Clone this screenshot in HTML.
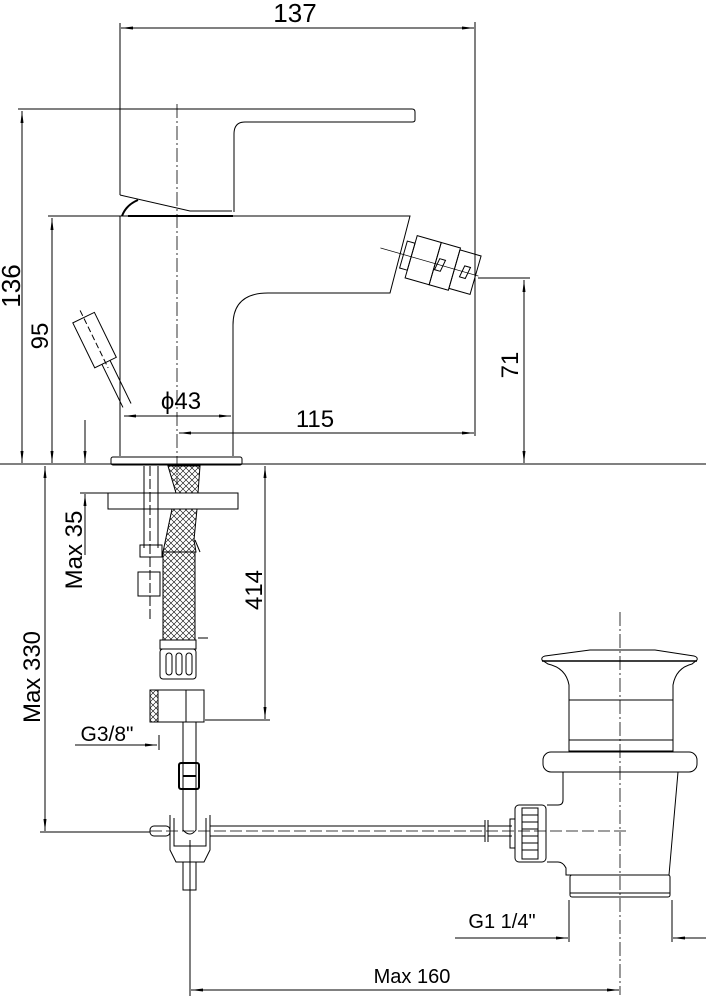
<!DOCTYPE html>
<html><head><meta charset="utf-8"><style>html,body{margin:0;padding:0;background:#fff}svg{display:block}</style></head><body>
<svg width="706" height="1000" viewBox="0 0 706 1000" xmlns="http://www.w3.org/2000/svg" font-family="Liberation Sans, DejaVu Sans, sans-serif">
<defs>
<pattern id="x" width="6" height="6" patternUnits="userSpaceOnUse"><path d="M0 0L6 6M6 0L0 6" stroke="#000" stroke-width="0.6"/></pattern>
<marker id="a" markerWidth="12" markerHeight="6" refX="12" refY="3" orient="auto-start-reverse" markerUnits="userSpaceOnUse"><path d="M0 1.5L12 3L0 4.5Z" fill="#000"/></marker>
</defs>
<g fill="none" stroke="#000" stroke-width="1">
<line x1="120" y1="23" x2="120" y2="195"/><line x1="475" y1="22" x2="475" y2="436"/>
<line x1="121" y1="28" x2="474" y2="28" marker-start="url(#a)" marker-end="url(#a)"/>
<line x1="18" y1="109" x2="120" y2="109"/>
<line x1="22" y1="111" x2="22" y2="463" marker-start="url(#a)" marker-end="url(#a)"/>
<line x1="48" y1="216" x2="120" y2="216"/>
<line x1="52" y1="218" x2="52" y2="463" marker-start="url(#a)" marker-end="url(#a)"/>
<line x1="124" y1="416" x2="231" y2="416" marker-start="url(#a)" marker-end="url(#a)"/>
<line x1="179" y1="433" x2="474" y2="433" marker-start="url(#a)" marker-end="url(#a)"/>
<line x1="478" y1="278" x2="530" y2="278"/>
<line x1="524" y1="280" x2="524" y2="463" marker-start="url(#a)" marker-end="url(#a)"/>
<line x1="0" y1="464" x2="706" y2="464"/>
<line x1="85" y1="420" x2="85" y2="463" marker-end="url(#a)"/>
<line x1="85" y1="555" x2="85" y2="494" marker-end="url(#a)"/>
<line x1="80" y1="493" x2="108" y2="493"/>
<line x1="265" y1="466" x2="265" y2="719" marker-start="url(#a)" marker-end="url(#a)"/>
<line x1="205" y1="720" x2="270" y2="720"/>
<line x1="75" y1="745" x2="157" y2="745" marker-end="url(#a)"/>
<line x1="159" y1="735" x2="159" y2="750"/>
<line x1="45" y1="466" x2="45" y2="831" marker-start="url(#a)" marker-end="url(#a)"/>
<line x1="40" y1="832" x2="150" y2="832"/>
<line x1="455" y1="938" x2="568" y2="938" marker-end="url(#a)"/>
<line x1="706" y1="938" x2="673" y2="938" marker-end="url(#a)"/>
<line x1="569" y1="900" x2="569" y2="942"/><line x1="672" y1="900" x2="672" y2="942"/>
<line x1="190" y1="840" x2="190" y2="996"/>
<line x1="191" y1="990" x2="619" y2="990" marker-start="url(#a)" marker-end="url(#a)"/>
<line x1="177" y1="104" x2="177" y2="485" stroke-width="0.8" stroke-dasharray="14,3,2,3"/>
<line x1="620" y1="612" x2="620" y2="995" stroke-width="0.8" stroke-dasharray="14,3,2,3"/>
<line x1="150" y1="831" x2="628" y2="831" stroke-width="0.7" stroke-dasharray="12,4"/>
<path d="M120 109H412Q415 109 415 112V120Q415 122 412 122H245Q234 122 234 134V212"/>
<path d="M120 195L190 211H232"/>
<path d="M122 216Q126 205 138 200" stroke-width="2"/>
<line x1="128" y1="216" x2="233" y2="216" stroke-width="2"/>
<path d="M120 216H410L390 293H268Q233 293 233 325V456"/>
<line x1="120" y1="216" x2="120" y2="456"/>
<g transform="translate(440,265) rotate(16)">
<rect x="-38" y="-14" width="8" height="28"/><rect x="-30" y="-22" width="25" height="44"/><rect x="-5" y="-22" width="20" height="44"/><rect x="15" y="-20" width="22" height="40"/>
<path d="M-2 -6L4 -6L2 6L-4 6ZM24 -6L30 -6L28 6L22 6Z"/>
<line x1="-62" y1="0" x2="40" y2="0" stroke-width="0.7"/>
</g>
<g transform="translate(95,341) rotate(-26)">
<rect x="-12" y="-26" width="24" height="50"/><line x1="-4" y1="24" x2="-4" y2="72"/><line x1="5" y1="24" x2="5" y2="72"/><line x1="0" y1="-34" x2="0" y2="30" stroke-dasharray="6,3"/>
</g>
<rect x="111" y="457" width="131" height="8" rx="2"/>
<rect x="108" y="493" width="130" height="16"/>
<line x1="144" y1="466" x2="144" y2="548"/><line x1="158" y1="466" x2="158" y2="548"/><line x1="150" y1="466" x2="150" y2="620" stroke-dasharray="10,3"/>
<rect x="140" y="545" width="22" height="12"/><rect x="138" y="572" width="22" height="24"/>
<path d="M168 466H200L198 493H176Z" fill="url(#x)"/>
<path d="M172 509H197L194 540L196 552H163Z" fill="url(#x)"/>
<rect x="163" y="552" width="32" height="88" fill="url(#x)"/>
<line x1="195" y1="540" x2="200" y2="552"/>
<rect x="160" y="640" width="36" height="9"/><rect x="160" y="649" width="36" height="30" rx="3"/>
<rect x="166" y="653" width="6" height="22" rx="3"/><rect x="176" y="653" width="6" height="22" rx="3"/><rect x="186" y="653" width="6" height="22" rx="3"/>
<line x1="198" y1="638" x2="208" y2="638"/>
<rect x="150" y="690" width="54" height="32"/><rect x="150" y="690" width="8" height="32" fill="url(#x)"/>
<line x1="186" y1="690" x2="186" y2="722"/>
<line x1="183" y1="722" x2="183" y2="815"/><line x1="196" y1="722" x2="196" y2="815"/>
<rect x="179" y="763" width="20" height="26" rx="2" stroke-width="2"/><line x1="183" y1="776" x2="196" y2="776" stroke-width="2"/>
<path d="M170 815V850L176 862H204L210 850V815"/><path d="M174 818V846H206V818"/>
<path d="M183 815V830Q190 838 196 830V815"/>
<rect x="183" y="862" width="13" height="28"/>
<rect x="150" y="826" width="20" height="10" rx="4"/>
<line x1="210" y1="826" x2="485" y2="826"/><line x1="210" y1="836" x2="485" y2="836"/>
<line x1="485" y1="820" x2="485" y2="842"/><line x1="488" y1="820" x2="488" y2="842"/>
<line x1="488" y1="826" x2="512" y2="826"/><line x1="488" y1="836" x2="512" y2="836"/>
<path d="M542 660Q541 657 545 656L590 650H655L694 656Q698 657 697 660L692 664Q676 668 673 685V700H569V685Q566 668 548 664Z"/>
<line x1="542" y1="661" x2="697" y2="661" stroke-width="1.5"/>
<rect x="569" y="700" width="104" height="40"/><rect x="569" y="740" width="104" height="11"/>
<rect x="543" y="752" width="154" height="20" rx="8"/>
<path d="M563 772V800Q563 805 558 805H547M547 862H558Q563 862 566 868V875H669L678 772"/>
<rect x="515" y="805" width="31" height="57" rx="4"/><rect x="522" y="808" width="16" height="51"/>
<line x1="522" y1="815" x2="538" y2="815"/><line x1="522" y1="822" x2="538" y2="822"/><line x1="522" y1="829" x2="538" y2="829"/><line x1="522" y1="836" x2="538" y2="836"/><line x1="522" y1="843" x2="538" y2="843"/><line x1="522" y1="850" x2="538" y2="850"/>
<rect x="510" y="819" width="5" height="29"/>
<rect x="570" y="875" width="100" height="22" rx="2"/><line x1="570" y1="893" x2="670" y2="893"/>
</g>
<g fill="#000" font-size="24">
<text x="295" y="22" text-anchor="middle" font-size="26">137</text>
<text transform="translate(20,286) rotate(-90)" text-anchor="middle" font-size="26">136</text>
<text transform="translate(48,336) rotate(-90)" text-anchor="middle">95</text>
<text x="181" y="409" text-anchor="middle">ϕ43</text>
<text x="315" y="427" text-anchor="middle">115</text>
<text transform="translate(518,365) rotate(-90)" text-anchor="middle">71</text>
<text transform="translate(82,550) rotate(-90)" text-anchor="middle">Max 35</text>
<text transform="translate(262,590) rotate(-90)" text-anchor="middle">414</text>
<text x="107" y="741" text-anchor="middle" font-size="21">G3/8"</text>
<text transform="translate(40,677) rotate(-90)" text-anchor="middle">Max  330</text>
<text x="502" y="928" text-anchor="middle" font-size="20">G1 1/4"</text>
<text x="412" y="983" text-anchor="middle" font-size="20">Max 160</text>
</g>
</svg>
</body></html>
